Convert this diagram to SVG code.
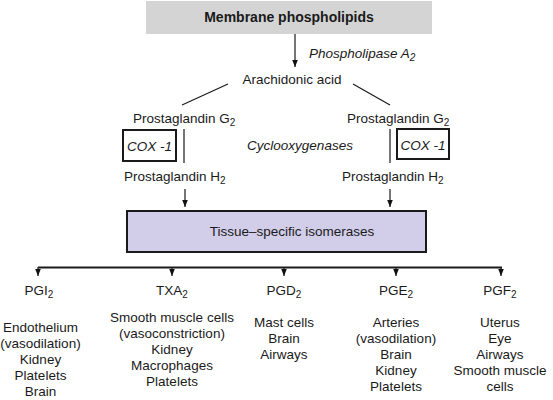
<svg xmlns="http://www.w3.org/2000/svg" width="553" height="400" viewBox="0 0 553 400">
<defs>
<marker id="ah" viewBox="0 0 10 10" refX="10" refY="5" markerWidth="7" markerHeight="7" orient="auto" markerUnits="userSpaceOnUse">
<path d="M0,1 L10,5 L0,9 Z" fill="#111"/>
</marker>
<style>
text{font-family:"Liberation Sans",Arial,sans-serif;font-size:13.5px;fill:#1a1a1a}
.c{text-anchor:middle}
.i{font-style:italic}
.b{font-weight:bold;font-size:14px}
.ln{stroke:#1a1a1a;stroke-width:1.2;fill:none}
.box{fill:#fff;stroke:#1a1a1a;stroke-width:2}
.s{font-size:10px}
</style>
</defs>
<rect width="553" height="400" fill="#fff"/>
<g id="connectors">
<line class="ln" x1="295" y1="34" x2="295" y2="67" marker-end="url(#ah)"/>
<line class="ln" x1="228" y1="84" x2="182" y2="105"/>
<line class="ln" x1="353" y1="84" x2="390" y2="105"/>
<line class="ln" x1="184" y1="129" x2="184" y2="163"/>
<line class="ln" x1="390" y1="129" x2="390" y2="163" stroke-width="1.6"/>
<line class="ln" x1="185" y1="189" x2="185" y2="207" marker-end="url(#ah)"/>
<line class="ln" x1="390" y1="189" x2="390" y2="207" marker-end="url(#ah)"/>
<line x1="38" y1="267.5" x2="502" y2="267.5" stroke="#1a1a1a" stroke-width="2"/>
<line class="ln" x1="38" y1="267" x2="38" y2="276" marker-end="url(#ah)"/>
<line class="ln" x1="172" y1="267" x2="172" y2="276" marker-end="url(#ah)"/>
<line class="ln" x1="284" y1="267" x2="284" y2="276" marker-end="url(#ah)"/>
<line class="ln" x1="396" y1="267" x2="396" y2="276" marker-end="url(#ah)"/>
<line class="ln" x1="501" y1="267" x2="501" y2="276" marker-end="url(#ah)"/>
</g>
<g id="membrane">
<rect x="146" y="1" width="286" height="33" fill="#d4d4d4"/>
<text class="c b" x="289" y="22">Membrane phospholipids</text>
</g>
<g id="pla2">
<text class="i" x="309" y="58">Phospholipase A<tspan class="s" dy="3">2</tspan></text>
</g>
<g id="aa">
<text class="c" x="292" y="84">Arachidonic acid</text>
</g>
<g id="pgg2-left">
<text x="133" y="123">Prostaglandin G<tspan class="s" dy="3">2</tspan></text>
</g>
<g id="pgg2-right">
<text x="347" y="123">Prostaglandin G<tspan class="s" dy="3">2</tspan></text>
</g>
<g id="cox-left">
<rect class="box" x="123" y="130" width="53" height="31"/>
<text class="c i" x="149.5" y="151">COX -1</text>
</g>
<g id="cox-right">
<rect class="box" x="397" y="129" width="52" height="30"/>
<text class="c i" x="423" y="149.5">COX -1</text>
</g>
<g id="cyclo">
<text class="c i" x="300" y="150">Cyclooxygenases</text>
</g>
<g id="pgh2-left">
<text x="124" y="181">Prostaglandin H<tspan class="s" dy="3">2</tspan></text>
</g>
<g id="pgh2-right">
<text x="342" y="181">Prostaglandin H<tspan class="s" dy="3">2</tspan></text>
</g>
<g id="isomerases">
<rect x="127" y="211" width="299" height="41" fill="#d2cde9" stroke="#1a1a1a" stroke-width="2"/>
<text class="c" x="292" y="236">Tissue–specific isomerases</text>
</g>
<g id="pgi2">
<text class="c" x="39" y="295">PGI<tspan class="s" dy="3">2</tspan></text>
<text class="c" x="40.5" y="332">Endothelium</text>
<text class="c" x="40.5" y="348">(vasodilation)</text>
<text class="c" x="40.5" y="364">Kidney</text>
<text class="c" x="40.5" y="380">Platelets</text>
<text class="c" x="40.5" y="396">Brain</text>
</g>
<g id="txa2">
<text class="c" x="172" y="295">TXA<tspan class="s" dy="3">2</tspan></text>
<text class="c" x="172" y="322">Smooth muscle cells</text>
<text class="c" x="172" y="338">(vasoconstriction)</text>
<text class="c" x="172" y="354">Kidney</text>
<text class="c" x="172" y="370">Macrophages</text>
<text class="c" x="172" y="386">Platelets</text>
</g>
<g id="pgd2">
<text class="c" x="284" y="295">PGD<tspan class="s" dy="3">2</tspan></text>
<text class="c" x="284" y="327">Mast cells</text>
<text class="c" x="284" y="343">Brain</text>
<text class="c" x="284" y="359">Airways</text>
</g>
<g id="pge2">
<text class="c" x="396" y="295">PGE<tspan class="s" dy="3">2</tspan></text>
<text class="c" x="396" y="327">Arteries</text>
<text class="c" x="396" y="343">(vasodilation)</text>
<text class="c" x="396" y="359">Brain</text>
<text class="c" x="396" y="375">Kidney</text>
<text class="c" x="396" y="391">Platelets</text>
</g>
<g id="pgf2">
<text class="c" x="500" y="295">PGF<tspan class="s" dy="3">2</tspan></text>
<text class="c" x="500" y="327">Uterus</text>
<text class="c" x="500" y="343">Eye</text>
<text class="c" x="500" y="359">Airways</text>
<text class="c" x="500" y="375">Smooth muscle</text>
<text class="c" x="500" y="391">cells</text>
</g>
</svg>
